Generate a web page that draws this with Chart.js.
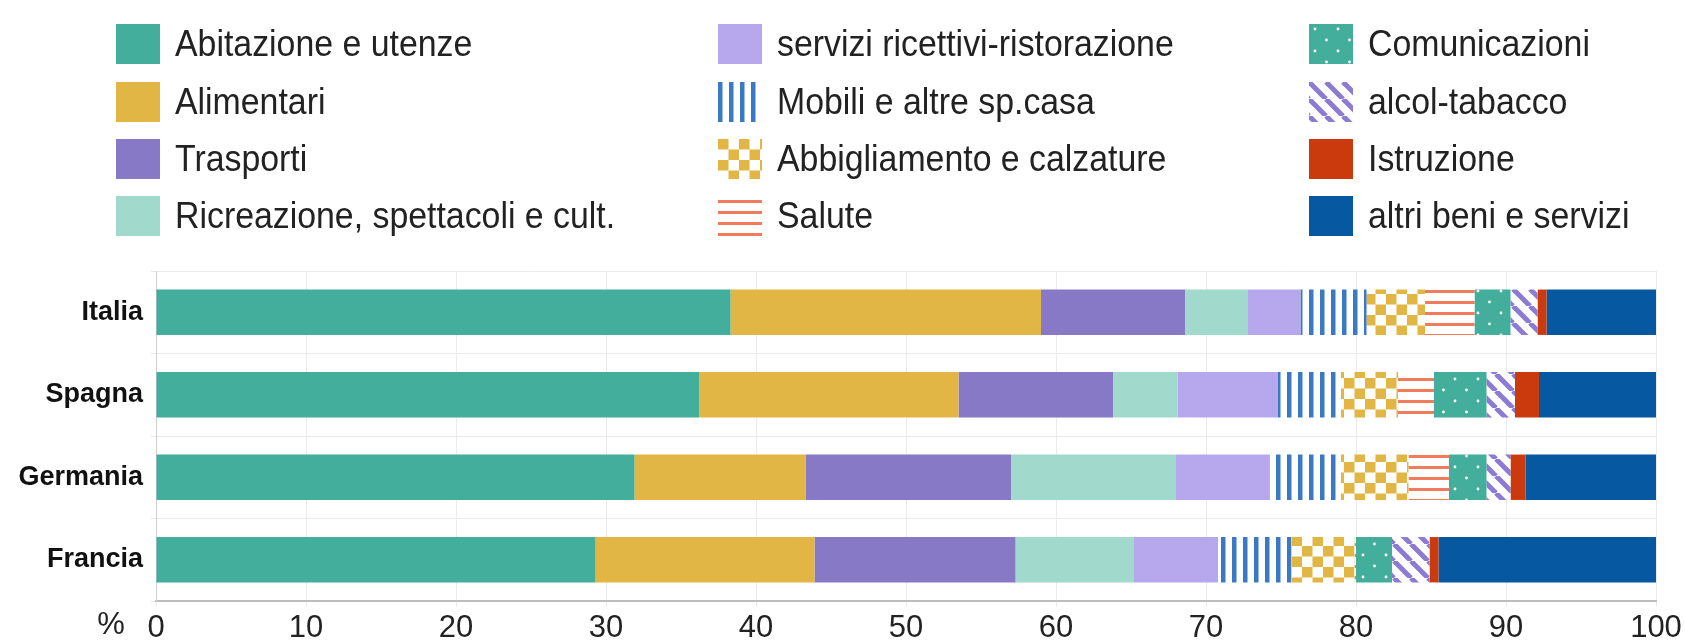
<!DOCTYPE html>
<html>
<head>
<meta charset="utf-8">
<script src="https://cdn.jsdelivr.net/npm/chart.js@4.4.1/dist/chart.umd.min.js"></script>
<style>
  body { margin: 0; background: #fff; }
  #wrap { position: relative; width: 1685px; height: 641px; }
  #chart { position: absolute; left: 0; top: 0; }
  .item { position: absolute; height: 42px; display: flex; align-items: center;
          font-family: 'Liberation Sans', Arial, sans-serif; font-size: 36px; color: #222; white-space: nowrap; }
  .item canvas { margin-right: 15px; flex: none; }
  .item span { display: inline-block; transform: scaleX(0.94); transform-origin: left center; }
</style>
</head>
<body>
<div id="wrap">
  <canvas id="chart" width="1685" height="641"></canvas>
  <div id="legend"></div>
</div>
<script>
var paesi = ['Italia', 'Spagna', 'Germania', 'Francia'];
var voci = ['Abitazione e utenze', 'Alimentari', 'Trasporti', 'Ricreazione, spettacoli e cult.',
            'servizi ricettivi-ristorazione', 'Mobili e altre sp.casa', 'Abbigliamento e calzature', 'Salute',
            'Comunicazioni', 'alcol-tabacco', 'Istruzione', 'altri beni e servizi'];
var xTicks = [0, 10, 20, 30, 40, 50, 60, 70, 80, 90, 100];

// quota % della spesa, ordine: Italia, Spagna, Germania, Francia
var abitazione    = [38.3, 36.2, 31.9, 29.3];
var alimentari    = [20.7, 17.3, 11.4, 14.6];
var trasporti     = [9.6, 10.3, 13.7, 13.4];
var ricreazione   = [4.2, 4.3, 11.0, 7.9];
var ricettivi     = [3.5, 6.7, 6.2, 5.6];
var mobili        = [4.4, 4.2, 4.8, 4.9];
var abbigliamento = [3.9, 3.8, 4.5, 4.2];
var salute        = [3.3, 2.4, 2.7, 0.1];
var comunicazioni = [2.4, 3.5, 2.5, 2.4];
var alcol         = [1.8, 1.9, 1.6, 2.5];
var istruzione    = [0.6, 1.6, 1.0, 0.6];
var altri         = [7.3, 7.8, 8.7, 14.5];

var serie = [abitazione, alimentari, trasporti, ricreazione, ricettivi, mobili,
             abbigliamento, salute, comunicazioni, alcol, istruzione, altri];

var ctx = document.getElementById('chart').getContext('2d');
var narrow = '"Liberation Sans Narrow", "Arial Narrow", "Liberation Sans", Arial, sans-serif';

function tile(w, h, draw) {
    var c = document.createElement('canvas');
    c.width = w; c.height = h;
    var g = c.getContext('2d');
    draw(g, w, h);
    return ctx.createPattern(c, 'repeat');
}
function righeV(col) {
    return tile(11, 10, function (g, w, h) {
        g.fillStyle = '#fff'; g.fillRect(0, 0, w, h);
        g.fillStyle = col; g.fillRect(0, 0, 4.5, h);
    });
}
function scacchi(col) {
    return tile(21, 21, function (g, w, h) {
        g.fillStyle = '#fff'; g.fillRect(0, 0, w, h);
        g.fillStyle = col; g.fillRect(0, 0, 10.5, 10.5); g.fillRect(10.5, 10.5, 10.5, 10.5);
    });
}
function righeO(col) {
    return tile(10, 11, function (g, w, h) {
        g.fillStyle = '#fff'; g.fillRect(0, 0, w, h);
        g.fillStyle = col; g.fillRect(0, 4, w, 3);
    });
}
function puntini(col) {
    return tile(23, 22, function (g, w, h) {
        g.fillStyle = col; g.fillRect(0, 0, w, h);
        g.fillStyle = '#fff';
        g.beginPath(); g.arc(6, 5, 1.4, 0, Math.PI * 2); g.fill();
        g.beginPath(); g.arc(17.5, 16, 1.4, 0, Math.PI * 2); g.fill();
    });
}
function diagonali(col) {
    return tile(17, 17, function (g, w, h) {
        g.fillStyle = '#fff'; g.fillRect(0, 0, w, h);
        g.strokeStyle = col; g.lineWidth = 5;
        for (var k = -1; k <= 1; k++) {
            g.beginPath(); g.moveTo(k * w, 0); g.lineTo(k * w + w, h); g.stroke();
        }
    });
}

var riempimenti = [
    '#43ae9b', '#e1b645', '#8879c7', '#a1d9cc',
    '#b7a8ee', righeV('#3b7ac2'), scacchi('#e1b645'), righeO('#f27b5b'),
    puntini('#43ae9b'), diagonali('#8d7ad4'), '#cb3a0c', '#0659a1'
];

var percento = {
    id: 'percento',
    afterDraw: function (chart) {
        var c = chart.ctx, xs = chart.scales.x;
        c.save();
        c.font = '31px ' + narrow;
        c.fillStyle = '#222';
        c.textAlign = 'center';
        c.textBaseline = 'middle';
        c.fillText('%', chart.chartArea.left - 45, xs.top + 24);
        c.restore();
    }
};

var grafico = new Chart(ctx, {
    type: 'bar',
    data: {
        labels: paesi,
        datasets: voci.map(function (v, i) {
            return {
                label: v,
                data: serie[i],
                backgroundColor: riempimenti[i],
                borderWidth: 0,
                barPercentage: 0.55,
                categoryPercentage: 1
            };
        })
    },
    options: {
        indexAxis: 'y',
        responsive: false,
        animation: false,
        layout: { padding: { top: 271, right: 29, left: 0, bottom: 0 } },
        plugins: { legend: { display: false }, tooltip: { enabled: false } },
        scales: {
            x: {
                stacked: true, min: 0, max: 100,
                afterBuildTicks: function (s) { s.ticks = xTicks.map(function (v) { return { value: v }; }); },
                afterFit: function (s) { s.height = 40; },
                ticks: { color: '#222', padding: 3, maxRotation: 0,
                         font: { size: 31, family: narrow } },
                grid: { color: '#ebebeb', tickLength: 6 },
                border: { color: '#bdbdbd', width: 2 }
            },
            y: {
                stacked: true,
                afterFit: function (s) { s.width = 156; },
                ticks: { color: '#111', padding: 8,
                         font: { size: 27, weight: 'bold', family: '"Liberation Sans", Arial, sans-serif' } },
                grid: { color: '#ebebeb', offset: true, tickLength: 5 },
                border: { color: '#cfcfcf' }
            }
        }
    },
    plugins: [percento]
});

// legenda a tre colonne (ordine per colonna)
var colX = [116, 718, 1309];
var rigaY = [23, 81, 138, 195];
var leg = document.getElementById('legend');
voci.forEach(function (v, i) {
    var d = document.createElement('div');
    d.className = 'item';
    d.style.left = colX[Math.floor(i / 4)] + 'px';
    d.style.top = rigaY[i % 4] + 'px';
    var sw = document.createElement('canvas');
    sw.width = 44; sw.height = 40;
    var g = sw.getContext('2d');
    g.fillStyle = riempimenti[i];
    g.fillRect(0, 0, 44, 40);
    d.appendChild(sw);
    var t = document.createElement('span');
    t.textContent = v;
    d.appendChild(t);
    leg.appendChild(d);
});
</script>
</body>
</html>
